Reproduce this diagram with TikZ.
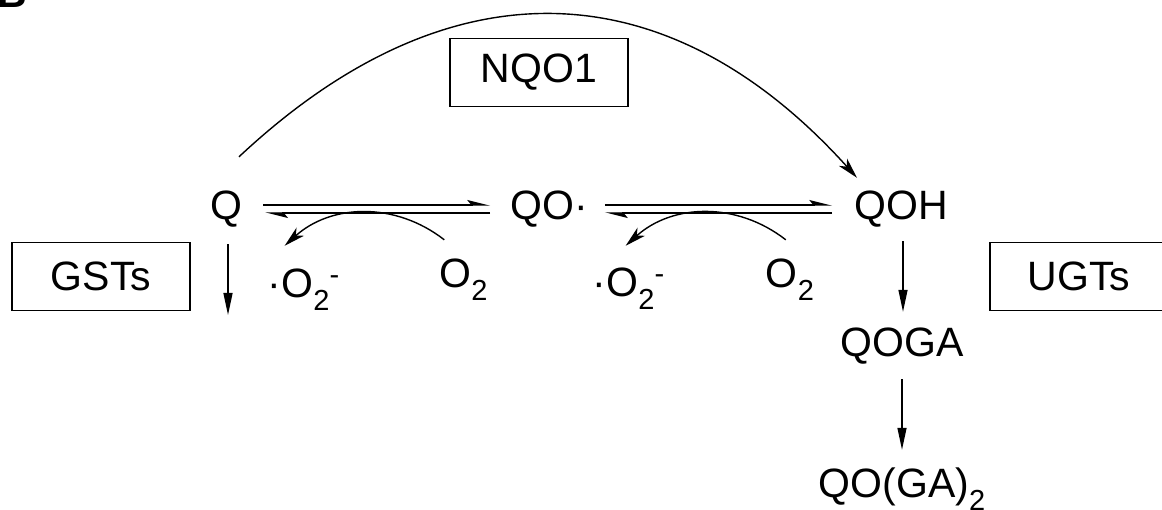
\documentclass[tikz,border=0pt]{standalone}
\usepackage{fontspec}
\setmainfont{Liberation Sans}
\usetikzlibrary{arrows.meta}
\newcommand\chsub[1]{\raisebox{-13pt}{\fontsize{29}{30}\selectfont #1}}
\newcommand\chsup[1]{\raisebox{13pt}{\fontsize{29}{30}\selectfont #1}}
\tikzset{
  big/.style={font=\fontsize{41}{49}\selectfont},
  chem/.style={big, inner sep=0pt, text height=30pt, text depth=0pt},
  enz/.style={big, draw, line width=1.7pt, minimum width=178pt, minimum height=68pt, inner sep=0pt},
  ln/.style={line width=1.4pt},
  down/.style={ln, -{Triangle[length=22pt,width=9pt]}},
  harp/.style={ln, -{Stealth[left,length=20pt,width=10pt,inset=4pt]}},
  curv/.style={ln, -{Stealth[length=21pt,width=11pt,inset=6pt]}},
}
\begin{document}
\begin{tikzpicture}[x=1pt,y=1pt]
\useasboundingbox (0,0) rectangle (1162,-510);
% partial panel letter
\node[big, anchor=south east, inner sep=0pt, text depth=0pt, font=\fontsize{41}{49}\selectfont\bfseries] (B) at (27,-8) {B};
% species
\node[chem] (Q) at (226,-205) {Q};
\node[chem] (QO) at (549,-205) {QO·};
\node[chem] (QOH) at (901,-205) {QOH};
\node[chem] (QOGA) at (902,-342) {QOGA};
\node[chem] (QOGA2) at (902,-482) {QO(GA)\chsub{2}};
\node[chem] (Om1) at (303.5,-283) {·O\chsub{2}\chsup{-}};
\node[chem] (Oa1) at (463.5,-273) {O\chsub{2}};
\node[chem] (Om2) at (628.5,-282) {·O\chsub{2}\chsup{-}};
\node[chem] (Oa2) at (790,-273) {O\chsub{2}};
% enzymes
\node[enz] (GST) at (101,-276.5) {GSTs};
\node[enz] (NQO) at (539,-72.5) {NQO1};
\node[enz] (UGT) at (1079,-276.5) {UGTs};
% equilibria
\draw[harp] ([xshift=21pt]Q.east) -- ([xshift=-20pt]QO.west);
\draw[harp] ([xshift=-20pt,yshift=-8pt]QO.west) -- ([xshift=23pt,yshift=-8pt]Q.east);
\draw[harp] ([xshift=17pt]QO.east) -- ([xshift=-22pt]QOH.west);
\draw[harp] ([xshift=-22pt,yshift=-8pt]QOH.west) -- ([xshift=17pt,yshift=-8pt]QO.east);
% oxygen arcs
\draw[curv] ([shift={(5,18)}]Oa1.north west) to[bend right=40] ([shift={(17,22)}]Om1.north west);
\draw[curv] ([shift={(20,18)}]Oa2.north west) to[bend right=40] ([shift={(33,21)}]Om2.north west);
% NQO1 arc
\draw[curv] ([shift={(13,33)}]Q.north) .. controls +(219,205) and +(-181,201) .. ([shift={(-44,12)}]QOH.north);
% downward arrows
\coordinate (gend) at (228,-315);
\draw[down] ([shift={(2,-24)}]Q.south) -- (gend);
\draw[down] ([shift={(2,-21)}]QOH.south) -- ([shift={(1,15)}]QOGA.north);
\draw[down] ([yshift=-22pt]QOGA.south) -- ([yshift=17pt]QOGA2.north);
\end{tikzpicture}
\end{document}
